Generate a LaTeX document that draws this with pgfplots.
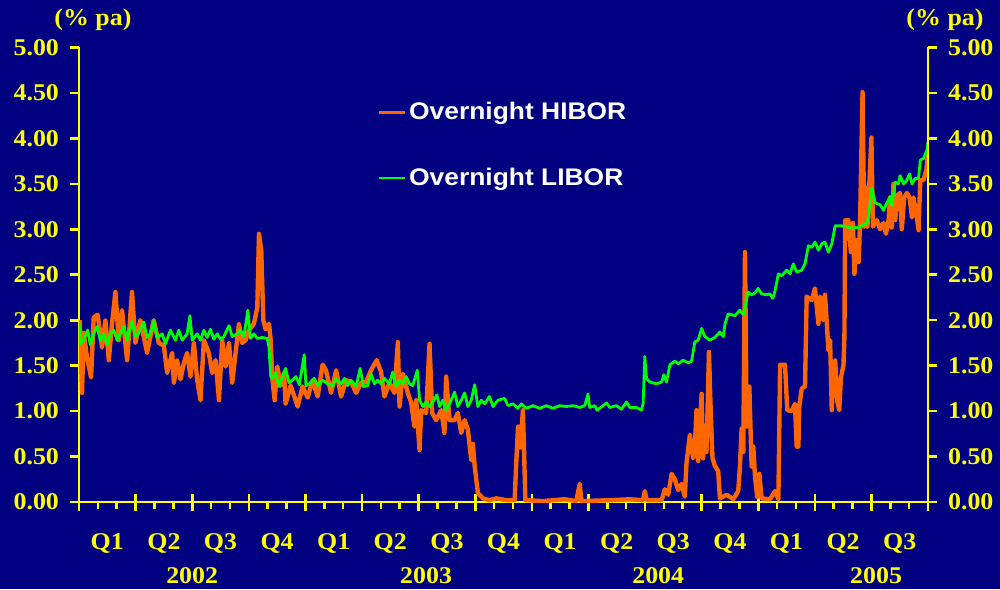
\documentclass[border=0pt]{standalone}
\usepackage{pgfplots}
\pgfplotsset{compat=1.18}
\usepackage{fontspec}
\setmainfont{Liberation Serif}[FakeStretch=1.08]
\newfontfamily\legfont{Liberation Sans}[FakeStretch=1.1]
\definecolor{bgnavy}{RGB}{0,0,128}
\definecolor{axyellow}{RGB}{255,255,0}
\definecolor{hibor}{RGB}{255,102,0}
\definecolor{libor}{RGB}{0,255,0}
\newcommand{\tickfont}{\bfseries\fontsize{12}{14}\selectfont}

\pgfplotsset{
  hkmaframe/.style={
    at={(39.5pt,43.5pt)}, anchor=south west,
    scale only axis, width=424.5pt, height=227.25pt,
    xmin=0, xmax=45, ymin=0, ymax=5,
    axis line style={axyellow, line width=1.3pt},
    tick style={axyellow, line width=1.3pt},
    tick align=outside,
    major tick length=4.5pt, minor tick length=3.5pt,
    ytick={0,0.5,...,5},
    yticklabels={0.00,0.50,1.00,1.50,2.00,2.50,3.00,3.50,4.00,4.50,5.00},
    ticklabel style={text=axyellow, font=\tickfont},
  },
}

\begin{document}
\begin{tikzpicture}
\path[use as bounding box] (0,0) rectangle (500pt,294.5pt);
\fill[bgnavy] (0,0) rectangle (500pt,294.5pt);

\begin{axis}[
  hkmaframe,
  axis x line*=bottom, axis y line*=left,
  xtick={0,3,...,45},
  minor x tick num=2,
  xticklabels={Q1,Q2,Q3,Q4,Q1,Q2,Q3,Q4,Q1,Q2,Q3,Q4,Q1,Q2,Q3,{}},
  xticklabel style={xshift=14.15pt, yshift=-8pt},
  yticklabel style={xshift=-2pt},
  extra x ticks={0,3,...,45},
  extra x tick labels={},
  extra x tick style={tick align=center, major tick length=8.5pt},
  clip=false,
  legend style={at={(0.351,0.785)}, anchor=west, draw=none, fill=none,
    text=white, font=\legfont\bfseries\fontsize{12}{14}\selectfont,
    row sep=19.5pt, inner sep=0pt, nodes={inner sep=1.5pt}},
  legend image code/.code={\draw[#1, line width=1.4pt] (-1pt,0pt) -- (12pt,0pt);},
  legend cell align=left,
]
\begin{scope}
\clip (axis cs:0,0) rectangle (axis cs:45,5);
\addplot[hibor, line width=2.2pt, line join=round] coordinates {
(0.04,2.00)(0.16,1.20)(0.25,1.86)(0.42,1.60)(0.64,1.37)(0.78,2.03)(0.99,2.06)(1.22,1.70)(1.40,2.00)(1.58,1.56)
(1.75,1.96)(1.93,2.31)(2.11,1.78)(2.28,2.11)(2.55,1.56)(2.81,2.31)(2.99,1.75)(3.25,2.00)(3.61,1.64)(3.96,2.00)
(4.23,1.75)(4.50,1.72)(4.67,1.42)(4.94,1.64)(5.03,1.31)(5.20,1.56)(5.38,1.35)(5.56,1.53)(5.73,1.64)(5.91,1.38)
(6.09,1.75)(6.26,1.35)(6.44,1.12)(6.62,1.78)(6.88,1.64)(7.06,1.42)(7.24,1.56)(7.42,1.12)(7.59,1.78)(7.77,1.49)
(7.95,1.75)(8.12,1.31)(8.30,1.64)(8.48,1.96)(8.65,1.75)(8.83,1.78)(9.01,1.89)(9.27,1.96)(9.45,2.14)(9.54,2.95)
(9.66,2.77)(9.77,2.00)(9.89,1.90)(10.07,1.96)(10.16,1.78)(10.24,1.38)(10.37,1.12)(10.51,1.49)(10.69,1.28)(10.87,1.42)
(10.95,1.08)(11.22,1.28)(11.48,1.12)(11.59,1.05)(11.85,1.27)(12.12,1.15)(12.38,1.34)(12.65,1.16)(12.91,1.51)(13.09,1.45)
(13.36,1.20)(13.63,1.45)(13.89,1.16)(14.16,1.34)(14.42,1.32)(14.69,1.20)(14.95,1.31)(15.22,1.32)(15.48,1.45)(15.78,1.56)
(16.01,1.43)(16.19,1.16)(16.45,1.31)(16.72,1.20)(16.90,1.76)(16.99,1.05)(17.16,1.41)(17.43,1.20)(17.61,1.09)(17.78,0.83)
(17.87,1.12)(18.05,0.57)(18.14,1.01)(18.40,0.98)(18.58,1.74)(18.72,0.98)(18.93,0.90)(19.20,1.01)(19.37,0.76)(19.46,1.38)
(19.64,0.90)(19.91,0.90)(20.08,0.98)(20.26,0.76)(20.44,0.90)(20.61,0.80)(20.79,0.46)(20.88,0.64)(20.97,0.40)(21.14,0.10)
(21.41,0.04)(21.76,0.02)(22.12,0.04)(22.65,0.02)(23.09,0.02)(23.18,0.45)(23.27,0.83)(23.39,0.60)(23.53,1.01)(23.66,0.02)
(24.59,0.01)(25.74,0.03)(26.36,0.01)(26.54,0.20)(26.63,0.01)(28.13,0.02)(29.19,0.03)(29.90,0.02)(29.99,0.12)(30.08,0.02)
(30.88,0.02)(31.05,0.14)(31.23,0.08)(31.41,0.31)(31.58,0.25)(31.76,0.13)(31.94,0.20)(32.11,0.06)(32.20,0.43)(32.38,0.74)
(32.55,0.48)(32.64,0.60)(32.73,1.01)(32.82,0.45)(33.00,1.19)(33.08,0.48)(33.17,0.80)(33.26,0.55)(33.39,1.65)(33.49,0.95)
(33.58,0.48)(33.70,0.40)(33.88,0.34)(33.97,0.04)(34.33,0.08)(34.68,0.03)(34.94,0.12)(35.03,0.38)(35.12,0.81)(35.21,0.55)
(35.30,2.75)(35.39,0.83)(35.53,1.27)(35.65,0.39)(35.74,0.61)(35.83,0.28)(35.95,0.05)(36.06,0.31)(36.18,0.04)(36.62,0.03)
(36.89,0.12)(37.07,0.03)(37.16,1.51)(37.42,1.51)(37.54,1.01)(37.78,1.00)(37.95,1.08)(38.04,0.61)(38.13,0.61)(38.18,1.06)
(38.31,1.25)(38.48,1.27)(38.57,2.26)(38.84,2.22)(39.01,2.35)(39.19,1.96)(39.28,2.26)(39.45,2.00)(39.54,2.28)(39.63,1.99)
(39.72,1.67)(39.81,1.78)(39.90,1.01)(39.99,1.44)(40.08,1.56)(40.20,1.10)(40.30,1.01)(40.38,1.36)(40.52,1.51)(40.57,1.82)
(40.61,3.10)(40.78,3.10)(40.91,2.75)(41.02,3.07)(41.10,2.51)(41.23,2.88)(41.33,2.64)(41.40,3.10)(41.53,4.51)(41.62,3.03)
(41.70,3.46)(41.79,3.03)(42.00,4.01)(42.08,3.03)(42.29,3.10)(42.46,3.00)(42.64,3.07)(42.77,2.95)(42.91,3.10)(42.99,3.35)
(43.08,3.02)(43.17,3.50)(43.26,3.10)(43.38,3.37)(43.52,3.40)(43.61,3.00)(43.74,3.35)(43.88,3.40)(44.02,3.35)(44.15,3.13)
(44.23,3.35)(44.41,3.13)(44.50,2.99)(44.59,3.54)(44.76,3.54)(44.91,3.65)(45.00,3.83)
};
\addlegendentry{Overnight HIBOR}
\addplot[libor, line width=1.4pt, line join=round] coordinates {
(0.00,1.98)(0.07,1.74)(0.25,1.78)(0.46,1.89)(0.60,1.73)(0.78,1.85)(0.96,1.93)(1.13,1.78)(1.31,1.85)(1.49,1.73)
(1.66,1.85)(1.84,1.89)(2.02,1.78)(2.19,1.85)(2.37,1.93)(2.55,1.78)(2.81,1.99)(2.99,1.82)(3.17,1.86)(3.43,1.98)
(3.61,1.81)(3.78,1.85)(3.96,1.99)(4.14,1.81)(4.41,1.85)(4.58,1.74)(4.85,1.89)(5.11,1.78)(5.29,1.89)(5.47,1.78)
(5.73,1.85)(5.88,2.05)(6.00,1.78)(6.26,1.85)(6.44,1.78)(6.62,1.89)(6.79,1.81)(6.97,1.90)(7.15,1.79)(7.33,1.85)
(7.50,1.79)(7.68,1.82)(7.95,1.94)(8.12,1.82)(8.39,1.85)(8.56,1.89)(8.74,1.82)(8.95,2.11)(9.09,1.80)(9.27,1.85)
(9.45,1.80)(9.71,1.81)(9.98,1.80)(10.07,1.70)(10.16,1.38)(10.24,1.36)(10.42,1.42)(10.60,1.27)(10.78,1.38)(10.95,1.47)
(11.13,1.31)(11.31,1.34)(11.50,1.38)(11.68,1.29)(11.94,1.62)(12.03,1.28)(12.21,1.30)(12.47,1.36)(12.65,1.28)(12.91,1.34)
(13.18,1.30)(13.45,1.28)(13.63,1.36)(13.89,1.30)(14.07,1.36)(14.24,1.28)(14.42,1.34)(14.69,1.27)(14.90,1.47)(15.08,1.27)
(15.30,1.28)(15.48,1.41)(15.66,1.30)(15.83,1.34)(16.01,1.30)(16.19,1.36)(16.45,1.30)(16.63,1.43)(16.81,1.27)(16.99,1.34)
(17.16,1.30)(17.34,1.38)(17.52,1.30)(17.69,1.28)(17.93,1.45)(18.05,1.12)(18.23,1.05)(18.40,1.10)(18.58,1.05)(18.75,1.10)
(18.97,1.18)(19.11,1.05)(19.28,1.12)(19.46,1.01)(19.64,1.08)(19.91,1.21)(20.08,1.05)(20.26,1.12)(20.44,1.20)(20.61,1.05)
(20.79,1.12)(20.97,1.29)(21.14,1.05)(21.32,1.12)(21.50,1.08)(21.76,1.16)(21.94,1.05)(22.21,1.12)(22.56,1.14)(22.74,1.06)
(23.00,1.08)(23.27,1.03)(23.45,1.08)(23.71,1.03)(24.06,1.06)(24.42,1.03)(24.77,1.06)(25.12,1.03)(25.48,1.06)(25.83,1.05)
(26.19,1.06)(26.54,1.04)(26.81,1.06)(26.98,1.19)(27.07,1.04)(27.34,1.06)(27.46,1.01)(27.78,1.06)(27.96,1.09)(28.13,1.04)
(28.49,1.06)(28.75,1.02)(29.02,1.10)(29.19,1.04)(29.55,1.04)(29.81,1.01)(29.90,1.08)(29.99,1.60)(30.08,1.36)(30.25,1.32)
(30.61,1.30)(30.88,1.32)(31.00,1.40)(31.14,1.32)(31.32,1.51)(31.58,1.55)(31.76,1.52)(32.02,1.56)(32.29,1.53)(32.47,1.55)
(32.64,1.76)(32.82,1.78)(33.00,1.91)(33.17,1.82)(33.44,1.78)(33.70,1.81)(33.97,1.87)(34.15,1.82)(34.24,1.96)(34.41,2.07)
(34.77,2.05)(35.03,2.11)(35.21,2.06)(35.47,2.31)(35.65,2.28)(35.83,2.30)(36.00,2.35)(36.18,2.29)(36.45,2.28)(36.62,2.29)
(36.77,2.24)(36.89,2.32)(37.07,2.51)(37.25,2.49)(37.51,2.55)(37.69,2.51)(37.86,2.62)(38.04,2.53)(38.31,2.55)(38.48,2.62)
(38.66,2.82)(38.84,2.80)(39.01,2.86)(39.19,2.77)(39.37,2.84)(39.54,2.86)(39.72,2.75)(39.90,2.84)(40.08,3.04)(40.34,3.04)
(40.70,3.03)(40.96,3.01)(41.14,3.02)(41.31,3.02)(41.58,3.05)(41.76,3.07)(41.85,3.14)(42.02,3.45)(42.20,3.29)(42.46,3.27)
(42.64,3.21)(42.82,3.29)(42.99,3.36)(43.08,3.26)(43.26,3.52)(43.43,3.50)(43.52,3.59)(43.70,3.50)(43.88,3.54)(44.02,3.61)
(44.15,3.50)(44.32,3.56)(44.50,3.56)(44.59,3.76)(44.76,3.78)(44.94,3.87)(45.00,3.96)
};
\addlegendentry{Overnight LIBOR}
\end{scope}
\node[text=axyellow, font=\tickfont] at (axis cs:6.0,0) [yshift=-37pt] {2002};
\node[text=axyellow, font=\tickfont] at (axis cs:18.4,0) [yshift=-37pt] {2003};
\node[text=axyellow, font=\tickfont] at (axis cs:30.7,0) [yshift=-37pt] {2004};
\node[text=axyellow, font=\tickfont] at (axis cs:42.25,0) [yshift=-37pt] {2005};
\end{axis}

\begin{axis}[
  hkmaframe,
  axis x line=none, axis y line*=right,
  yticklabel style={xshift=2pt},
]
\end{axis}

\node[text=axyellow, font=\tickfont] at (46.5pt,284.5pt) {(\% pa)};
\node[text=axyellow, font=\tickfont] at (472.5pt,284.5pt) {(\% pa)};
\end{tikzpicture}
\end{document}
